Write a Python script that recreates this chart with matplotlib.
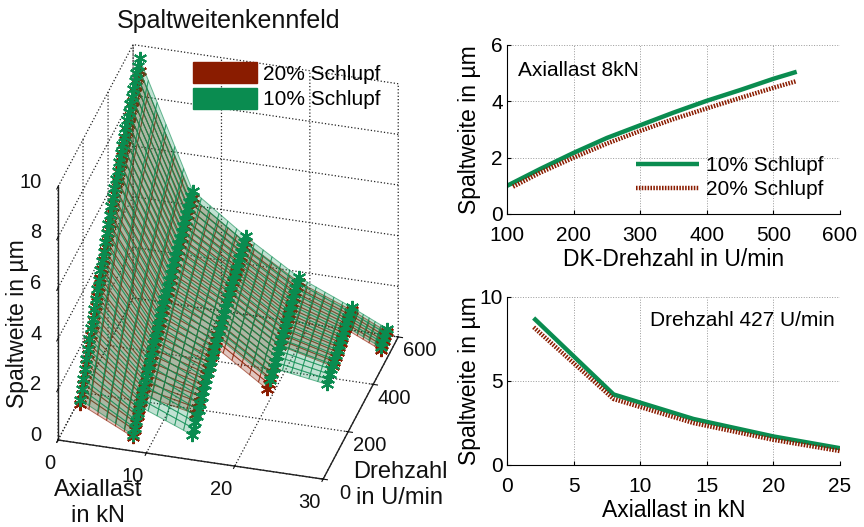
import numpy as np
import matplotlib
matplotlib.use('Agg')
import matplotlib.pyplot as plt
from matplotlib.colors import to_rgba
from matplotlib.patches import Patch
from mpl_toolkits.mplot3d import proj3d
from mpl_toolkits.mplot3d.art3d import Poly3DCollection

plt.rcParams['font.family'] = ['Liberation Sans', 'DejaVu Sans']
plt.rcParams['grid.linestyle'] = ':'
plt.rcParams['grid.color'] = '#222222'
plt.rcParams['grid.linewidth'] = 0.9

GREEN = '#0a8c50'
RED = '#8a1c00'

# 3d map: rows of speed, each load column fills the last rows of that list
speed_rows = [35, 47.5, 60, 72.5, 85, 97.5, 110, 122.5, 135, 147.5, 160, 172.5, 185, 197.5, 210, 222.5, 235, 247.5, 260, 272.5,
              285, 297.5, 310, 322.5, 335, 347.5, 360, 372.5, 385, 397.5, 410, 422.5, 435, 447.5, 460, 472.5, 485, 497.5, 510]
loads = [2, 8, 14, 20, 26, 30]

gap_10 = [
    [1.37, 1.66, 1.95, 2.24, 2.52, 2.80, 3.08, 3.36, 3.63, 3.90, 4.17, 4.44, 4.70, 4.96, 5.21, 5.46, 5.71, 5.96, 6.20, 6.44,
     6.68, 6.92, 7.15, 7.38, 7.61, 7.83, 8.05, 8.27, 8.48, 8.69, 8.89, 9.09, 9.29, 9.48, 9.67, 9.86, 10.04, 10.22, 10.40],
    [0.28, 0.45, 0.62, 0.79, 0.95, 1.11, 1.27, 1.43, 1.58, 1.74, 1.89, 2.04, 2.19, 2.34, 2.48, 2.62, 2.76, 2.90, 3.04, 3.18,
     3.31, 3.44, 3.57, 3.70, 3.83, 3.96, 4.08, 4.21, 4.33, 4.45, 4.57, 4.69, 4.81, 4.93, 5.04, 5.16, 5.27, 5.38, 5.49],
    [0.12, 0.26, 0.39, 0.52, 0.65, 0.78, 0.91, 1.04, 1.16, 1.29, 1.41, 1.53, 1.65, 1.77, 1.89, 2.01, 2.12, 2.24,
     2.35, 2.46, 2.57, 2.68, 2.79, 2.90, 3.00, 3.11, 3.21, 3.31, 3.41, 3.51, 3.61, 3.71, 3.80, 3.90, 3.99],
    [0.73, 0.85, 0.97, 1.09, 1.20, 1.31, 1.42, 1.53, 1.64, 1.75, 1.86, 1.97, 2.07, 2.18, 2.28, 2.39, 2.49, 2.59, 2.69],
    [0.64, 0.72, 0.80, 0.88, 0.95, 1.03, 1.10, 1.18, 1.25, 1.32, 1.39, 1.46, 1.53, 1.60, 1.67, 1.74, 1.81],
    [0.91, 0.98, 1.04, 1.11, 1.17],
]
gap_20 = [
    [1.20, 1.48, 1.76, 2.04, 2.31, 2.58, 2.85, 3.12, 3.38, 3.64, 3.90, 4.16, 4.41, 4.66, 4.90, 5.14, 5.38, 5.62, 5.85, 6.08,
     6.31, 6.54, 6.76, 6.98, 7.20, 7.42, 7.63, 7.84, 8.04, 8.24, 8.44, 8.63, 8.82, 9.01, 9.19, 9.37, 9.55, 9.73, 9.90],
    [0.20, 0.36, 0.52, 0.68, 0.84, 1.00, 1.15, 1.30, 1.45, 1.60, 1.74, 1.89, 2.03, 2.17, 2.31, 2.45, 2.58, 2.72, 2.85, 2.98,
     3.11, 3.24, 3.36, 3.49, 3.61, 3.73, 3.85, 3.97, 4.09, 4.21, 4.32, 4.44, 4.55, 4.66, 4.77, 4.88, 4.99, 5.10, 5.20],
    [0.72, 0.84, 0.95, 1.06, 1.17, 1.28, 1.39, 1.49, 1.60, 1.70, 1.80, 1.90, 2.00, 2.10, 2.20, 2.30, 2.39,
     2.49, 2.58, 2.67, 2.76, 2.85, 2.94, 3.03, 3.12, 3.20, 3.28, 3.36, 3.44, 3.52, 3.60, 3.68, 3.75],
    [0.60, 0.70, 0.80, 0.90, 1.00, 1.10, 1.20, 1.30, 1.39, 1.49, 1.58, 1.67, 1.76, 1.85, 1.94, 2.04, 2.13, 2.23, 2.32, 2.41, 2.50],
    [0.88, 0.95, 1.02, 1.09, 1.16, 1.23, 1.30, 1.37, 1.43, 1.50, 1.56, 1.63, 1.69],
    [0.80, 0.87, 0.93, 0.99, 1.05],
]

# 2d panels
speed_8kn_10 = [100, 150, 200, 250, 300, 350, 400, 450, 500, 535]
gap_8kn_10 = [1.0, 1.6, 2.17, 2.7, 3.15, 3.6, 4.02, 4.4, 4.8, 5.05]
speed_8kn_20 = [109, 150, 200, 250, 300, 350, 400, 450, 500, 535]
gap_8kn_20 = [0.97, 1.47, 2.0, 2.5, 2.95, 3.37, 3.75, 4.12, 4.48, 4.72]

load_427 = [2, 8, 14, 20, 25]
gap_427_10 = [8.75, 4.2, 2.74, 1.7, 1.0]
gap_427_20 = [8.2, 3.93, 2.5, 1.5, 0.83]

W, H = 864, 527
fig = plt.figure(figsize=(W / 100, H / 100), dpi=100)


def rect(x0, y_top, x1, y_bot):
    return [x0 / W, 1 - y_bot / H, (x1 - x0) / W, (y_bot - y_top) / H]


def draw_map(ax, table, color, z_face):
    for i in range(len(loads) - 1):
        za, zb = table[i], table[i + 1]
        n = min(len(za), len(zb))
        za, zb = np.array(za[-n:]), np.array(zb[-n:])
        rows = speed_rows[-n:]
        xa, xb = loads[i], loads[i + 1]
        quads = []
        # ribs of the surface between two load columns
        steps = 6
        for r in range(n - 1):
            for s in range(steps):
                t0, t1 = s / steps, (s + 1) / steps
                quads.append([
                    (xa + (xb - xa) * t0, rows[r], za[r] + (zb[r] - za[r]) * t0),
                    (xa + (xb - xa) * t1, rows[r], za[r] + (zb[r] - za[r]) * t1),
                    (xa + (xb - xa) * t1, rows[r + 1], za[r + 1] + (zb[r + 1] - za[r + 1]) * t1),
                    (xa + (xb - xa) * t0, rows[r + 1], za[r + 1] + (zb[r + 1] - za[r + 1]) * t0),
                ])
        poly = Poly3DCollection(quads, facecolor=to_rgba(color, 0.25),
                                edgecolor=to_rgba(color, 0.6), linewidth=0.7)
        poly.set_zorder(z_face)
        ax.add_collection3d(poly)


def draw_stars(ax, table, color, z_star):
    for x, col in zip(loads, table):
        rows = speed_rows[-len(col):]
        ax.plot([x] * len(col), rows, col, ls='', marker=(6, 2, 0), ms=9.5, mew=1.5,
                color=color, zorder=z_star)


ax3 = fig.add_axes(rect(-50, -50, 550, 550), projection='3d', computed_zorder=False)
ax3.set_proj_type('ortho')
ax3.view_init(elev=31.9, azim=-74.4)
ax3.set_xlim(0, 30)
ax3.set_ylim(0, 600)
ax3.set_zlim(0, 10)
ax3.set_xticks([0, 10, 20, 30])
ax3.set_yticks([0, 200, 400, 600])
ax3.set_zticks([0, 2, 4, 6, 8, 10])
ax3.set_facecolor('none')
for axis in (ax3.xaxis, ax3.yaxis, ax3.zaxis):
    axis.set_pane_color((1, 1, 1, 0))
    axis.pane.set_edgecolor((1, 1, 1, 0))
    axis.line.set_color('#222222')
    axis.line.set_linewidth(1.0)
ax3.zaxis.set_ticks_position('lower')
ax3.tick_params(labelsize=14.5, colors='#111111')
ax3.tick_params(axis='x', pad=0)
ax3.tick_params(axis='y', pad=10)
ax3.tick_params(axis='z', pad=3)
for t in ax3.xaxis.get_ticklabels():
    t.set_ha('right')
for t in ax3.yaxis.get_ticklabels():
    t.set_va('bottom')
for t in ax3.zaxis.get_ticklabels():
    t.set_ha('right')
    t.set_va('bottom')

draw_map(ax3, gap_20, RED, 2)
draw_stars(ax3, gap_20, RED, 3)
draw_map(ax3, gap_10, GREEN, 4)
draw_stars(ax3, gap_10, GREEN, 5)

# fit the box onto the picture: origin at (58, 440), x end at (323, 479)
ax3.set_box_aspect((275, 279, 298), zoom=1.0)
fig.canvas.draw()


def to_px(x, y, z):
    px, py, _ = proj3d.proj_transform(x, y, z, ax3.get_proj())
    return ax3.transData.transform((px, py))


a, b = to_px(0, 0, 0), to_px(30, 0, 0)
zoom = 268.0 / np.hypot(*(b - a))
ax3.set_box_aspect((275, 279, 298), zoom=zoom)
fig.canvas.draw()
a = to_px(0, 0, 0)
dx, dy = 58 - a[0], (H - 440) - a[1]
pos = ax3.get_position()
ax3.set_position([pos.x0 + dx / W, pos.y0 + dy / H, pos.width, pos.height])

ax3.legend(handles=[Patch(color=RED, label='20% Schlupf'), Patch(color=GREEN, label='10% Schlupf')],
           loc='upper left', bbox_to_anchor=(187 / W, 1 - 56 / H), bbox_transform=fig.transFigure,
           frameon=False, fontsize=15, handlelength=3.05, handleheight=1.16,
           handletextpad=0.3, labelspacing=0.2, borderpad=0.3, borderaxespad=0)

fig.text(229 / W, 1 - 21 / H, 'Spaltweitenkennfeld', fontsize=18, ha='center', va='center', color='#111111')
fig.text(18 / W, 1 - 324 / H, 'Spaltweite in µm', fontsize=16.6, rotation=90, ha='center', va='center', color='#111111')
fig.text(98 / W, 1 - 503 / H, 'Axiallast\nin kN', fontsize=17, ha='center', va='center', color='#111111')
fig.text(400 / W, 1 - 485 / H, 'Drehzahl\nin U/min', fontsize=17, ha='center', va='center', color='#111111')


def style_panel(ax):
    ax.spines['top'].set_visible(False)
    ax.spines['right'].set_visible(False)
    ax.grid(True, linestyle=':', color='#999999', linewidth=0.7)
    ax.set_axisbelow(True)
    ax.tick_params(axis='y', direction='in', length=3, labelsize=15, pad=3)
    ax.tick_params(axis='x', direction='in', length=3, labelsize=15, pad=9)
    ax.yaxis.set_label_coords(-0.078, 0.5)


ax1 = fig.add_axes(rect(507, 45, 840, 214))
ax1.plot(speed_8kn_10, gap_8kn_10, color=GREEN, lw=3.2, solid_capstyle='butt', label='10% Schlupf')
ax1.plot(speed_8kn_20, gap_8kn_20, color=RED, lw=3.2, ls=(0, (0.35, 0.3)), label='20% Schlupf')
ax1.set_xlim(100, 600)
ax1.set_ylim(0, 6)
ax1.set_xticks([100, 200, 300, 400, 500, 600])
ax1.set_yticks([0, 2, 4, 6])
ax1.set_xlabel('DK-Drehzahl in U/min', fontsize=16.5, labelpad=2)
ax1.set_ylabel('Spaltweite in µm', fontsize=16.6)
ax1.text(116, 5.11, 'Axiallast 8kN', fontsize=15, va='center')
ax1.legend(loc='lower right', bbox_to_anchor=(823 / W, 1 - 199 / H), bbox_transform=fig.transFigure,
           frameon=False, fontsize=15, handlelength=3.0, handletextpad=0.33, labelspacing=0.25,
           borderpad=0, borderaxespad=0)
style_panel(ax1)

ax2 = fig.add_axes(rect(507, 297, 840, 465))
ax2.plot(load_427, gap_427_10, color=GREEN, lw=3.2, solid_capstyle='butt')
ax2.plot(load_427, gap_427_20, color=RED, lw=3.2, ls=(0, (0.35, 0.3)))
ax2.set_xlim(0, 25)
ax2.set_ylim(0, 10)
ax2.set_xticks([0, 5, 10, 15, 20, 25])
ax2.set_yticks([0, 5, 10])
ax2.set_xlabel('Axiallast in kN', fontsize=16.5, labelpad=2)
ax2.set_ylabel('Spaltweite in µm', fontsize=16.6)
ax2.text(24.6, 8.63, 'Drehzahl 427 U/min', fontsize=15, ha='right', va='center')
style_panel(ax2)

fig.savefig('out.png', dpi=100)
